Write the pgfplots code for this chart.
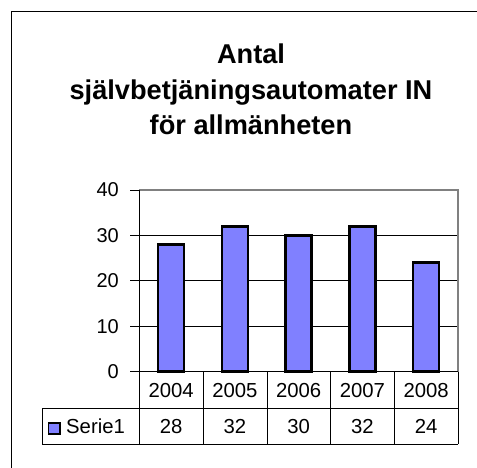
\documentclass[border=0pt]{standalone}
\usepackage{fontspec}
\setmainfont{Liberation Sans}
\usepackage{pgfplots}
\pgfplotsset{compat=1.18}
\definecolor{barblue}{HTML}{8080FF}
\definecolor{frame}{HTML}{808080}

\begin{document}
\begin{tikzpicture}[x=1pt,y=1pt]
\useasboundingbox (0,0) rectangle (477,467);
\clip (0,0) rectangle (477,467);
% outer chart frame (cut by the page at right and bottom)
\draw[line width=1.3pt] (11.5,-20) -- (11.5,455.5) -- (500,455.5);

% title
\begin{scope}[every node/.style={anchor=base, font=\fontsize{27.2}{32}\selectfont\bfseries}]
\node at (251,403.7) {Antal};
\node at (251,367) {självbetjäningsautomater IN};
\node at (251,332) {för allmänheten};
\end{scope}

\begin{axis}[
  at={(139.3pt,95.3pt)}, anchor=south west,
  scale only axis, width=318.7pt, height=181.7pt,
  xmin=-0.5, xmax=4.5, ymin=0, ymax=40,
  xtick=\empty, ytick={0,10,20,30,40},
  ytick pos=left, tick align=outside, major tick length=9pt,
  tick style={black, line width=1pt},
  axis line style={draw=frame, line width=1.3pt},
  ymajorgrids, grid style={black, line width=1pt},
  yticklabel style={font=\fontsize{20}{24}\selectfont, xshift=-8pt},
  /pgf/number format/assume math mode=true,
  clip=false,
]
\addplot[ybar, bar width=26pt, fill=barblue, draw=black, line width=2.5pt]
  coordinates {(0,28) (1,32) (2,30) (3,32) (4,24)};
\draw[frame, line width=1.3pt] (rel axis cs:0,1) -- (rel axis cs:1,1) -- (rel axis cs:1,0);
\draw[black, line width=1.3pt] (rel axis cs:0,1) -- (rel axis cs:0,0) -- (rel axis cs:1,0);
\end{axis}

% data table under the axis
\begin{scope}[line width=1pt]
\draw (139.3,95.3) -- (139.3,23);
\foreach \xx in {203.3,267,330.7,394.3,458} \draw (\xx,95.3) -- (\xx,23);
\draw (42,58.7) -- (458,58.7);
\draw (42,23) -- (458,23);
\draw (42,58.7) -- (42,23);
\end{scope}
\begin{scope}[every node/.style={anchor=base, font=\fontsize{20.3}{24}\selectfont}]
\foreach \xx/\yr/\val in {171.2/2004/28, 234.9/2005/32, 298.6/2006/30, 362.4/2007/32, 426.1/2008/24} {
  \node at (\xx,70) {\yr};
  \node at (\xx,33.7) {\val};
}
\node[anchor=base west, inner sep=0pt] at (66,33.7) {Serie1};
\end{scope}
\draw[fill=barblue, draw=black, line width=1.8pt] (48.5,33.2) rectangle (60,44.2);
\end{tikzpicture}
\end{document}
